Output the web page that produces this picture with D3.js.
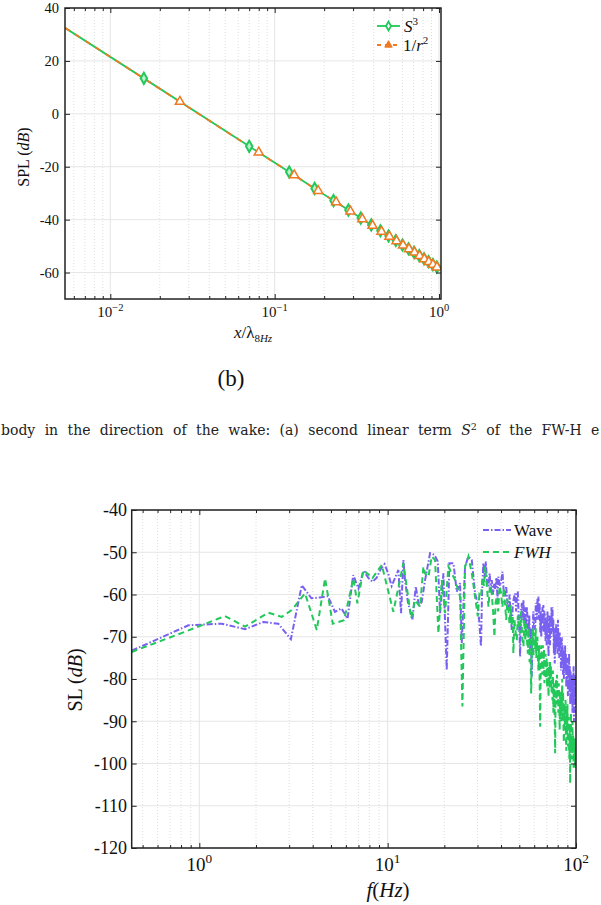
<!DOCTYPE html>
<html><head><meta charset="utf-8">
<script src="https://cdn.jsdelivr.net/npm/d3@7"></script>
<style>body{margin:0;background:#fff}svg{display:block}</style>
</head><body>
<svg id="c" width="601" height="905"></svg>
<script>
// ---------- DATA: top chart (SPL vs x/lambda) ----------
const s3LineX  = [0.0053, 0.016, 0.070, 0.1226, 0.175, 0.228, 0.281, 0.334, 0.387, 0.440, 0.493, 0.546, 0.599, 0.652, 0.705, 0.758, 0.811, 0.864, 0.917, 0.970, 1.0];
const s3LineY  = [32.5, 13.4, -12.3, -22.0, -28.2, -32.8, -36.4, -39.4, -42.0, -44.2, -46.2, -47.9, -49.6, -51.0, -52.4, -53.6, -54.8, -55.9, -57.0, -57.9, -58.6];
const s3MarkX  = [0.016, 0.070, 0.1226, 0.175, 0.228, 0.281, 0.334, 0.387, 0.440, 0.493, 0.546, 0.599, 0.652, 0.705, 0.758, 0.811, 0.864, 0.917, 0.970];
const s3MarkY  = [13.4, -12.3, -22.0, -28.2, -32.8, -36.4, -39.4, -42.0, -44.2, -46.2, -47.9, -49.6, -51.0, -52.4, -53.6, -54.8, -55.9, -57.0, -57.9];
const r2LineX  = [0.0053, 0.0265, 0.080, 0.1315, 0.184, 0.2365, 0.289, 0.3415, 0.394, 0.4465, 0.499, 0.5515, 0.604, 0.6565, 0.709, 0.7615, 0.814, 0.8665, 0.919, 0.9715, 1.0];
const r2LineY  = [32.5, 4.6, -14.6, -23.2, -29.1, -33.4, -36.9, -39.8, -42.3, -44.5, -46.4, -48.1, -49.7, -51.1, -52.4, -53.7, -54.9, -56.0, -57.0, -58.0, -58.6];
const r2MarkX  = [0.0265, 0.080, 0.1315, 0.184, 0.2365, 0.289, 0.3415, 0.394, 0.4465, 0.499, 0.5515, 0.604, 0.6565, 0.709, 0.7615, 0.814, 0.8665, 0.919, 0.9715];
const r2MarkY  = [4.6, -14.6, -23.2, -29.1, -33.4, -36.9, -39.8, -42.3, -44.5, -46.4, -48.1, -49.7, -51.1, -52.4, -53.7, -54.9, -56.0, -57.0, -58.0];
const topYTicks = [40, 20, 0, -20, -40, -60];
const topXTicks = [0.01, 0.1, 1];
const topXExp   = ["\u22122", "\u22121", "0"];

// ---------- DATA: bottom chart (SL vs f) ----------
const waveF = [0.4375,0.875,1.3125,1.75,2.1875,2.625,3.0625,3.5,3.9375,4.375,4.8125,5.25,5.6875,6.125,6.5625,7.0,7.4375,7.875,8.3125,8.75,9.1875,9.625,10.0625,10.5,
  11.4,11.78,12.12,12.37,12.79,13.53,14.10,14.68,15.17,15.80,16.80,17.71,18.45,18.98,19.77,20.59,21.27,22.35,23.27,24.24,24.74,25.76,26.84,27.96,29.12,
  30.0,30.6,31.3,31.7,32.2,32.8,33.2,33.7,34.3,34.8,35.3,35.7,36.3,36.8,37.2,37.8,38.3,38.7,39.4,40.0,40.7,41.3,42.0,42.6,43.2,43.8,44.4,45.0,45.6,46.1,46.7,47.5,48.1,48.6,49.1,49.7,50.2,50.5,
  51.0,51.6,52.1,52.6,53.2,53.8,54.3,54.8,55.4,56.0,56.5,57.1,57.6,58.2,58.8,59.3,59.8,
  60.2,60.7,61.1,61.5,62.0,62.4,62.8,63.2,63.7,64.1,64.6,65.0,65.4,65.8,66.3,66.7,67.1,67.6,68.0,68.5,68.9,69.3,69.8,70.2,70.6,71.1,71.5,71.9,72.4,72.8,73.2,73.7,74.1,74.5,
  75.0,75.4,75.8,76.3,76.7,77.1,77.6,78.0,78.4,78.9,79.3,79.7,80.2,80.6,81.0,81.5,81.9,82.3,82.8,83.2,83.6,84.1,84.5,84.9,85.4,85.8,86.2,86.7,87.1,87.5,88.0,88.4,88.8,89.3,89.7,
  90.1,90.6,91.0,91.4,91.9,92.3,92.7,93.2,93.6,94.0,94.5,94.9,95.3,95.8,96.2,96.6,97.1,97.5,97.9,98.4,98.8,99.2,99.7];
const waveSL = [-73.3,-67.3,-66.9,-68.2,-66.5,-66.9,-70.6,-57.8,-60.9,-60.7,-60.4,-64.1,-63.3,-65.7,-55.4,-58.6,-54.4,-56.0,-57.0,-56.0,-54.0,-52.8,-55.0,-58.0,
  -54.2,-64.4,-51.8,-56.6,-61.7,-66.0,-58.1,-62.9,-61.7,-56.6,-50.2,-50.6,-52.2,-64.4,-55.0,-77.9,-52.6,-52.6,-59.3,-57.3,-71.5,-53.4,-51.0,-51.8,-59.7,
  -62,-66,-72.3,-60,-52.6,-56,-52.2,-57,-58.1,-55,-59,-56.6,-60,-57.5,-58.9,-56,-61,-55.8,-58,-57,-54.6,-59,-60.5,-58,-62,-63.7,-60,-65,-68.4,-63,-61,-59.7,-64,-60,-59.3,-66,-70,-74.7,
  -64,-62,-66,-61.3,-67,-63,-69,-62.9,-66,-70,-65,-73.1,-68,-79.4,-70,-64,-67,
  -67,-68.4,-63,-62,-66,-61,-64,-60.5,-66,-62,-69,-64,-70,-68.4,-63,-67,-62.5,-69,-64,-65.2,-71,-66,-72,-67,-64,-70,-74.7,-68,-65,-72,-66,-70,-63,-67.6,
  -63,-69,-66,-74,-68,-76.3,-70,-73,-67,-72,-68,-74,-66,-71,-69,-75,-69,-73,-70,-78,-71,-70.8,-76,-72,-79,-73,-80,-74,-77.9,-72,-78,-74,-82,-76,-80,
  -75,-84,-77,-79.4,-74,-83,-77,-86,-78,-82,-79,-85.8,-79,-88,-80,-84,-77,-90,-81,-86,-79,-88,-82];
const fwhF = [0.4375,0.875,1.369,1.749,2.325,2.740,3.095,3.641,4.203,4.652,5.111,5.869,6.574,6.904,7.429,8.305,9.305,10.72,12.12,13.33,13.98,14.86,15.48,15.80,16.46,17.14,17.85,18.60,19.37,20.17,21.01,21.89,22.80,24.24,24.94,25.76,26.84,27.96,29.12,
  30.1,30.7,31.3,31.9,32.5,32.9,33.5,34.3,34.9,35.7,36.3,36.9,37.4,38.0,38.6,39.3,40.0,40.7,41.3,42.0,42.6,43.2,43.8,44.4,45.0,45.6,46.1,46.5,47.1,47.8,48.5,49.1,49.7,50.5,
  51.1,51.8,52.6,53.2,53.8,54.4,54.8,55.5,56.1,56.7,57.2,57.8,58.4,59.0,59.4,59.8,
  60.2,60.7,61.1,61.5,62.0,62.4,62.8,63.2,63.7,64.1,64.5,65.0,65.4,65.8,66.3,66.7,67.1,67.6,68.0,68.5,68.9,69.3,69.8,70.2,70.6,71.1,71.5,71.9,72.4,72.8,73.2,73.7,74.1,74.5,
  75.0,75.4,75.8,76.3,76.7,77.1,77.5,77.9,78.4,78.8,79.3,79.7,80.2,80.6,81.0,81.5,81.9,82.3,82.8,83.2,83.6,84.1,84.5,84.9,85.4,85.8,86.2,86.7,87.1,87.5,88.0,88.4,88.8,89.3,89.7,
  90.1,90.6,91.0,91.4,91.9,92.3,92.7,93.1,93.6,94.0,94.5,94.9,95.3,95.8,96.2,96.6,97.1,97.5,97.9,98.4,98.8,99.2,99.7];
const fwhSL = [-73.6,-68.5,-65.1,-67.6,-64.3,-65.3,-63.7,-59.7,-68.4,-56.2,-66.9,-66.1,-56.2,-62.1,-54.2,-56.1,-53.0,-64.1,-52.6,-65.6,-61.3,-62.9,-53.4,-55.0,-55.8,-51.0,-51.8,-69.2,-56.6,-64.4,-53.4,-55.0,-56.6,-60.5,-86.5,-53.4,-51.0,-55.0,-60.5,
  -65.2,-60,-60.5,-56,-58,-53.4,-57,-62.9,-58,-59.7,-64,-70.0,-62,-60.5,-64,-58,-59.7,-63,-58.5,-62.1,-66,-61,-63.7,-67,-62.5,-67.6,-65,-73.9,-66,-69,-70.8,-65,-68,-69.2,
  -64,-70,-72.3,-66,-71,-67,-70.0,-74,-68,-76,-70,-83.4,-72,-68,-74.7,-69,
  -70,-73,-68,-75,-72.3,-70,-76,-78,-72,-80,-91.3,-76,-72,-74.7,-79,-72,-78,-73,-81,-77.9,-74,-80,-75,-82,-76,-79,-84.2,-77,-82,-76,-80,-77,-83,-80.2,
  -85,-78,-88,-81,-84,-90,-97.6,-83,-80,-86,-79,-84,-82.6,-88,-81,-86,-92,-84,-88,-83,-90,-85.8,-80,-89,-83,-91,-95,-86,-90,-92.1,-85,-94,-97,-88,-93,
  -86,-96,-95.2,-89,-97,-99,-91,-104.7,-92,-88,-96,-93.6,-99,-90,-97,-93,-101,-95,-99,-94,-101,-96,-100];
const botYTicks = [-40,-50,-60,-70,-80,-90,-100,-110,-120];
const botXTicks = [1, 10, 100];
const botXExp   = ["0", "1", "2"];

// ---------- COLOURS ----------
const GREEN = "#22c85a", ORANGE = "#f07a22", PURPLE = "#7861f0";
const FONT = "'Liberation Serif', 'DejaVu Serif', serif";

const svg = d3.select("#c");
svg.append("rect").attr("width",601).attr("height",905).attr("fill","#fff");
const defs = svg.append("defs");

function isMajor(v) { return Math.abs(Math.log10(v) - Math.round(Math.log10(v))) < 1e-9; }

function grid(g, x, y, yTicks, L, R, T, B) {
  x.ticks().forEach(v => {
    const major = isMajor(v);
    g.append("line").attr("x1", x(v)).attr("x2", x(v)).attr("y1", T).attr("y2", B)
      .attr("stroke", major ? "#e4e4e4" : "#d6d6d6").attr("stroke-width", major ? 1 : 0.8)
      .attr("stroke-dasharray", major ? null : "1,2");
  });
  yTicks.forEach(v => {
    g.append("line").attr("x1", L).attr("x2", R).attr("y1", y(v)).attr("y2", y(v))
      .attr("stroke", "#e6e6e6").attr("stroke-width", 1);
  });
}

function frame(g, x, y, xMajors, yTicks, L, R, T, B) {
  const minors = x.ticks().filter(v => !isMajor(v));
  const mk = (axisFn, sc, vals, size, tx, ty) => {
    const a = g.append("g").attr("transform", `translate(${tx},${ty})`)
      .call(axisFn(sc).tickValues(vals).tickSize(size).tickFormat(""));
    a.select(".domain").remove();
    a.selectAll(".tick line").attr("stroke", "#222").attr("stroke-width", 1);
  };
  mk(d3.axisBottom, x, minors, -3, 0, B);
  mk(d3.axisBottom, x, xMajors, -5, 0, B);
  mk(d3.axisTop, x, minors, -3, 0, T);
  mk(d3.axisTop, x, xMajors, -5, 0, T);
  mk(d3.axisLeft, y, yTicks, -5, L, 0);
  mk(d3.axisRight, y, yTicks, -5, R, 0);
  g.append("rect").attr("x", L).attr("y", T).attr("width", R - L).attr("height", B - T)
    .attr("fill", "none").attr("stroke", "#222").attr("stroke-width", 1.5);
}

function yLabels(g, y, ticks, xr, fs) {
  ticks.forEach(v => {
    g.append("text").attr("x", xr).attr("y", y(v)).attr("dy", "0.35em")
      .attr("text-anchor", "end").attr("font-family", FONT).attr("font-size", fs)
      .attr("fill", "#111").text(v < 0 ? "-" + Math.abs(v) : String(v));
  });
}
function xLabels(g, x, ticks, exps, yb, fs) {
  ticks.forEach((v, i) => {
    const t = g.append("text").attr("x", x(v)).attr("y", yb).attr("text-anchor", "middle")
      .attr("font-family", FONT).attr("font-size", fs).attr("fill", "#111");
    t.append("tspan").text("10");
    t.append("tspan").attr("dy", -fs * 0.42).attr("font-size", fs * 0.7).text(exps[i]);
  });
}

// ================= TOP CHART =================
const tL = 65, tR = 441, tT = 8, tB = 299;
const xT = d3.scaleLog().domain([0.0053, 1.028]).range([tL, tR]);
const yT = d3.scaleLinear().domain([-70, 40]).range([tB, tT]);
const gT = svg.append("g");
grid(gT, xT, yT, topYTicks, tL, tR, tT, tB);
defs.append("clipPath").attr("id", "clipT").append("rect").attr("x", tL).attr("y", tT).attr("width", tR - tL).attr("height", tB - tT);
const lineT = d3.line().x(d => xT(d[0])).y(d => yT(d[1]));
const plotT = gT.append("g").attr("clip-path", "url(#clipT)");
plotT.append("path").datum(s3LineX.map((v, i) => [v, s3LineY[i]])).attr("d", lineT)
  .attr("fill", "none").attr("stroke", GREEN).attr("stroke-width", 1.8);
plotT.append("path").datum(r2LineX.map((v, i) => [v, r2LineY[i]])).attr("d", lineT)
  .attr("fill", "none").attr("stroke", ORANGE).attr("stroke-width", 1.8).attr("stroke-dasharray", "6,6");
const diamond = d3.symbol().type(d3.symbolDiamond).size(36);
const diamondL = d3.symbol().type(d3.symbolDiamond).size(22);
const tri = d3.symbol().type(d3.symbolTriangle).size(36);
const triL = d3.symbol().type(d3.symbolTriangle).size(24);
plotT.selectAll(".dm").data(s3MarkX.map((v, i) => [v, s3MarkY[i]])).enter().append("path")
  .attr("d", diamond).attr("transform", d => `translate(${xT(d[0])},${yT(d[1])})`)
  .attr("fill", "#bdf0cc").attr("stroke", GREEN).attr("stroke-width", 2);
plotT.selectAll(".tr").data(r2MarkX.map((v, i) => [v, r2MarkY[i]])).enter().append("path")
  .attr("d", tri).attr("transform", d => `translate(${xT(d[0])},${yT(d[1])})`)
  .attr("fill", "#fff").attr("stroke", ORANGE).attr("stroke-width", 1.5);
frame(gT, xT, yT, topXTicks, topYTicks, tL, tR, tT, tB);
yLabels(gT, yT, topYTicks, 59, 14.5);
xLabels(gT, xT, topXTicks, topXExp, 317, 15);
// legend top
{
  const lx1 = 377, lx2 = 400, ty1 = 26, ty2 = 45;
  gT.append("line").attr("x1", lx1).attr("x2", lx2).attr("y1", ty1).attr("y2", ty1).attr("stroke", GREEN).attr("stroke-width", 1.8);
  gT.append("path").attr("d", diamondL).attr("transform", `translate(${(lx1 + lx2) / 2},${ty1})`).attr("fill", "#fff").attr("stroke", GREEN).attr("stroke-width", 1.8);
  gT.append("line").attr("x1", lx1).attr("x2", lx2).attr("y1", ty2).attr("y2", ty2).attr("stroke", ORANGE).attr("stroke-width", 1.8).attr("stroke-dasharray", "4,4");
  gT.append("path").attr("d", triL).attr("transform", `translate(${(lx1 + lx2) / 2},${ty2})`).attr("fill", ORANGE).attr("stroke", ORANGE).attr("stroke-width", 1);
  const t1 = gT.append("text").attr("x", 404).attr("y", ty1 + 6).attr("font-family", FONT).attr("font-size", 17).attr("fill", "#111");
  t1.append("tspan").attr("font-style", "italic").text("S");
  t1.append("tspan").attr("dy", -7).attr("font-size", 11).text("3");
  const t2 = gT.append("text").attr("x", 403).attr("y", ty2 + 6).attr("font-family", FONT).attr("font-size", 17).attr("fill", "#111");
  t2.append("tspan").text("1/");
  t2.append("tspan").attr("font-style", "italic").text("r");
  t2.append("tspan").attr("dy", -7).attr("font-size", 11).text("2");
}
// axis titles top
{
  const t = gT.append("text").attr("transform", "translate(29,157) rotate(-90)").attr("text-anchor", "middle")
    .attr("font-family", FONT).attr("font-size", 16).attr("fill", "#111");
  t.append("tspan").text("SPL (");
  t.append("tspan").attr("font-style", "italic").text("dB");
  t.append("tspan").text(")");
  const x = gT.append("text").attr("x", 253).attr("y", 338).attr("text-anchor", "middle")
    .attr("font-family", FONT).attr("font-size", 17).attr("fill", "#111");
  x.append("tspan").attr("font-style", "italic").text("x");
  x.append("tspan").text("/\u03bb");
  x.append("tspan").attr("dy", 4).attr("font-size", 11).text("8");
  x.append("tspan").attr("font-size", 11).attr("font-style", "italic").text("Hz");
}
// caption (b)
svg.append("text").attr("x", 231).attr("y", 386).attr("text-anchor", "middle")
  .attr("font-family", FONT).attr("font-size", 23).attr("fill", "#111").text("(b)");
// caption line (justified, as in the source page; last visible letter only)
{
  const words = ["body", "in", "the", "direction", "of", "the", "wake:", "(a)", "second", "linear", "term", "S2", "of", "the", "FW-H", "e"];
  const cy = 435, fs = 14;
  const CF = "'DejaVu Serif', serif";
  const nodes = words.map(w => {
    const t = svg.append("text").attr("y", cy).attr("font-family", CF).attr("font-size", fs).attr("fill", "#222");
    if (w === "S2") {
      t.append("tspan").attr("font-style", "italic").text("S");
      t.append("tspan").attr("dy", -5.5).attr("font-size", 9.5).text("2");
    } else t.text(w);
    return t;
  });
  const widths = nodes.map(n => n.node().getComputedTextLength());
  const start = 1, endStart = 591;
  const sumW = widths.slice(0, -1).reduce((a, b) => a + b, 0);
  const gap = (endStart - start - sumW) / (words.length - 1);
  let cx = start;
  nodes.forEach((n, i) => { n.attr("x", cx); cx += widths[i] + gap; });
}

// ================= BOTTOM CHART =================
const bL = 131.7, bR = 576, bT = 510, bB = 848;
const xB = d3.scaleLog().domain([0.4375, 100]).range([bL, bR]);
const yB = d3.scaleLinear().domain([-120, -40]).range([bB, bT]);
const gB = svg.append("g");
grid(gB, xB, yB, botYTicks, bL, bR, bT, bB);
defs.append("clipPath").attr("id", "clipB").append("rect").attr("x", bL).attr("y", bT).attr("width", bR - bL).attr("height", bB - bT);
const lineB = d3.line().x(d => xB(d[0])).y(d => yB(d[1]));
const plotB = gB.append("g").attr("clip-path", "url(#clipB)");
plotB.append("path").datum(waveF.map((v, i) => [v, waveSL[i]])).attr("d", lineB)
  .attr("fill", "none").attr("stroke", PURPLE).attr("stroke-width", 2).attr("stroke-dasharray", "6,2,1.5,2");
plotB.append("path").datum(fwhF.map((v, i) => [v, fwhSL[i]])).attr("d", lineB)
  .attr("fill", "none").attr("stroke", GREEN).attr("stroke-width", 2).attr("stroke-dasharray", "6,4");
frame(gB, xB, yB, botXTicks, botYTicks, bL, bR, bT, bB);
yLabels(gB, yB, botYTicks, 127, 18);
xLabels(gB, xB, botXTicks, botXExp, 871, 19);
// legend bottom
{
  gB.append("line").attr("x1", 483).attr("x2", 511).attr("y1", 530).attr("y2", 530).attr("stroke", PURPLE).attr("stroke-width", 2).attr("stroke-dasharray", "6,2,1.5,2");
  gB.append("line").attr("x1", 483).attr("x2", 511).attr("y1", 552).attr("y2", 552).attr("stroke", GREEN).attr("stroke-width", 2).attr("stroke-dasharray", "6,4");
  gB.append("text").attr("x", 514).attr("y", 536).attr("font-family", FONT).attr("font-size", 17).attr("fill", "#111").text("Wave");
  gB.append("text").attr("x", 514).attr("y", 558).attr("font-family", FONT).attr("font-size", 17).attr("font-style", "italic").attr("fill", "#111").text("FWH");
}
// axis titles bottom
{
  const t = gB.append("text").attr("transform", "translate(82,680) rotate(-90)").attr("text-anchor", "middle")
    .attr("font-family", FONT).attr("font-size", 20).attr("fill", "#111");
  t.append("tspan").text("SL (");
  t.append("tspan").attr("font-style", "italic").text("dB");
  t.append("tspan").text(")");
  const x = gB.append("text").attr("x", 388).attr("y", 897).attr("text-anchor", "middle")
    .attr("font-family", FONT).attr("font-size", 21).attr("fill", "#111");
  x.append("tspan").attr("font-style", "italic").text("f");
  x.append("tspan").text("(");
  x.append("tspan").attr("font-style", "italic").text("Hz");
  x.append("tspan").text(")");
}
</script>
</body></html>
